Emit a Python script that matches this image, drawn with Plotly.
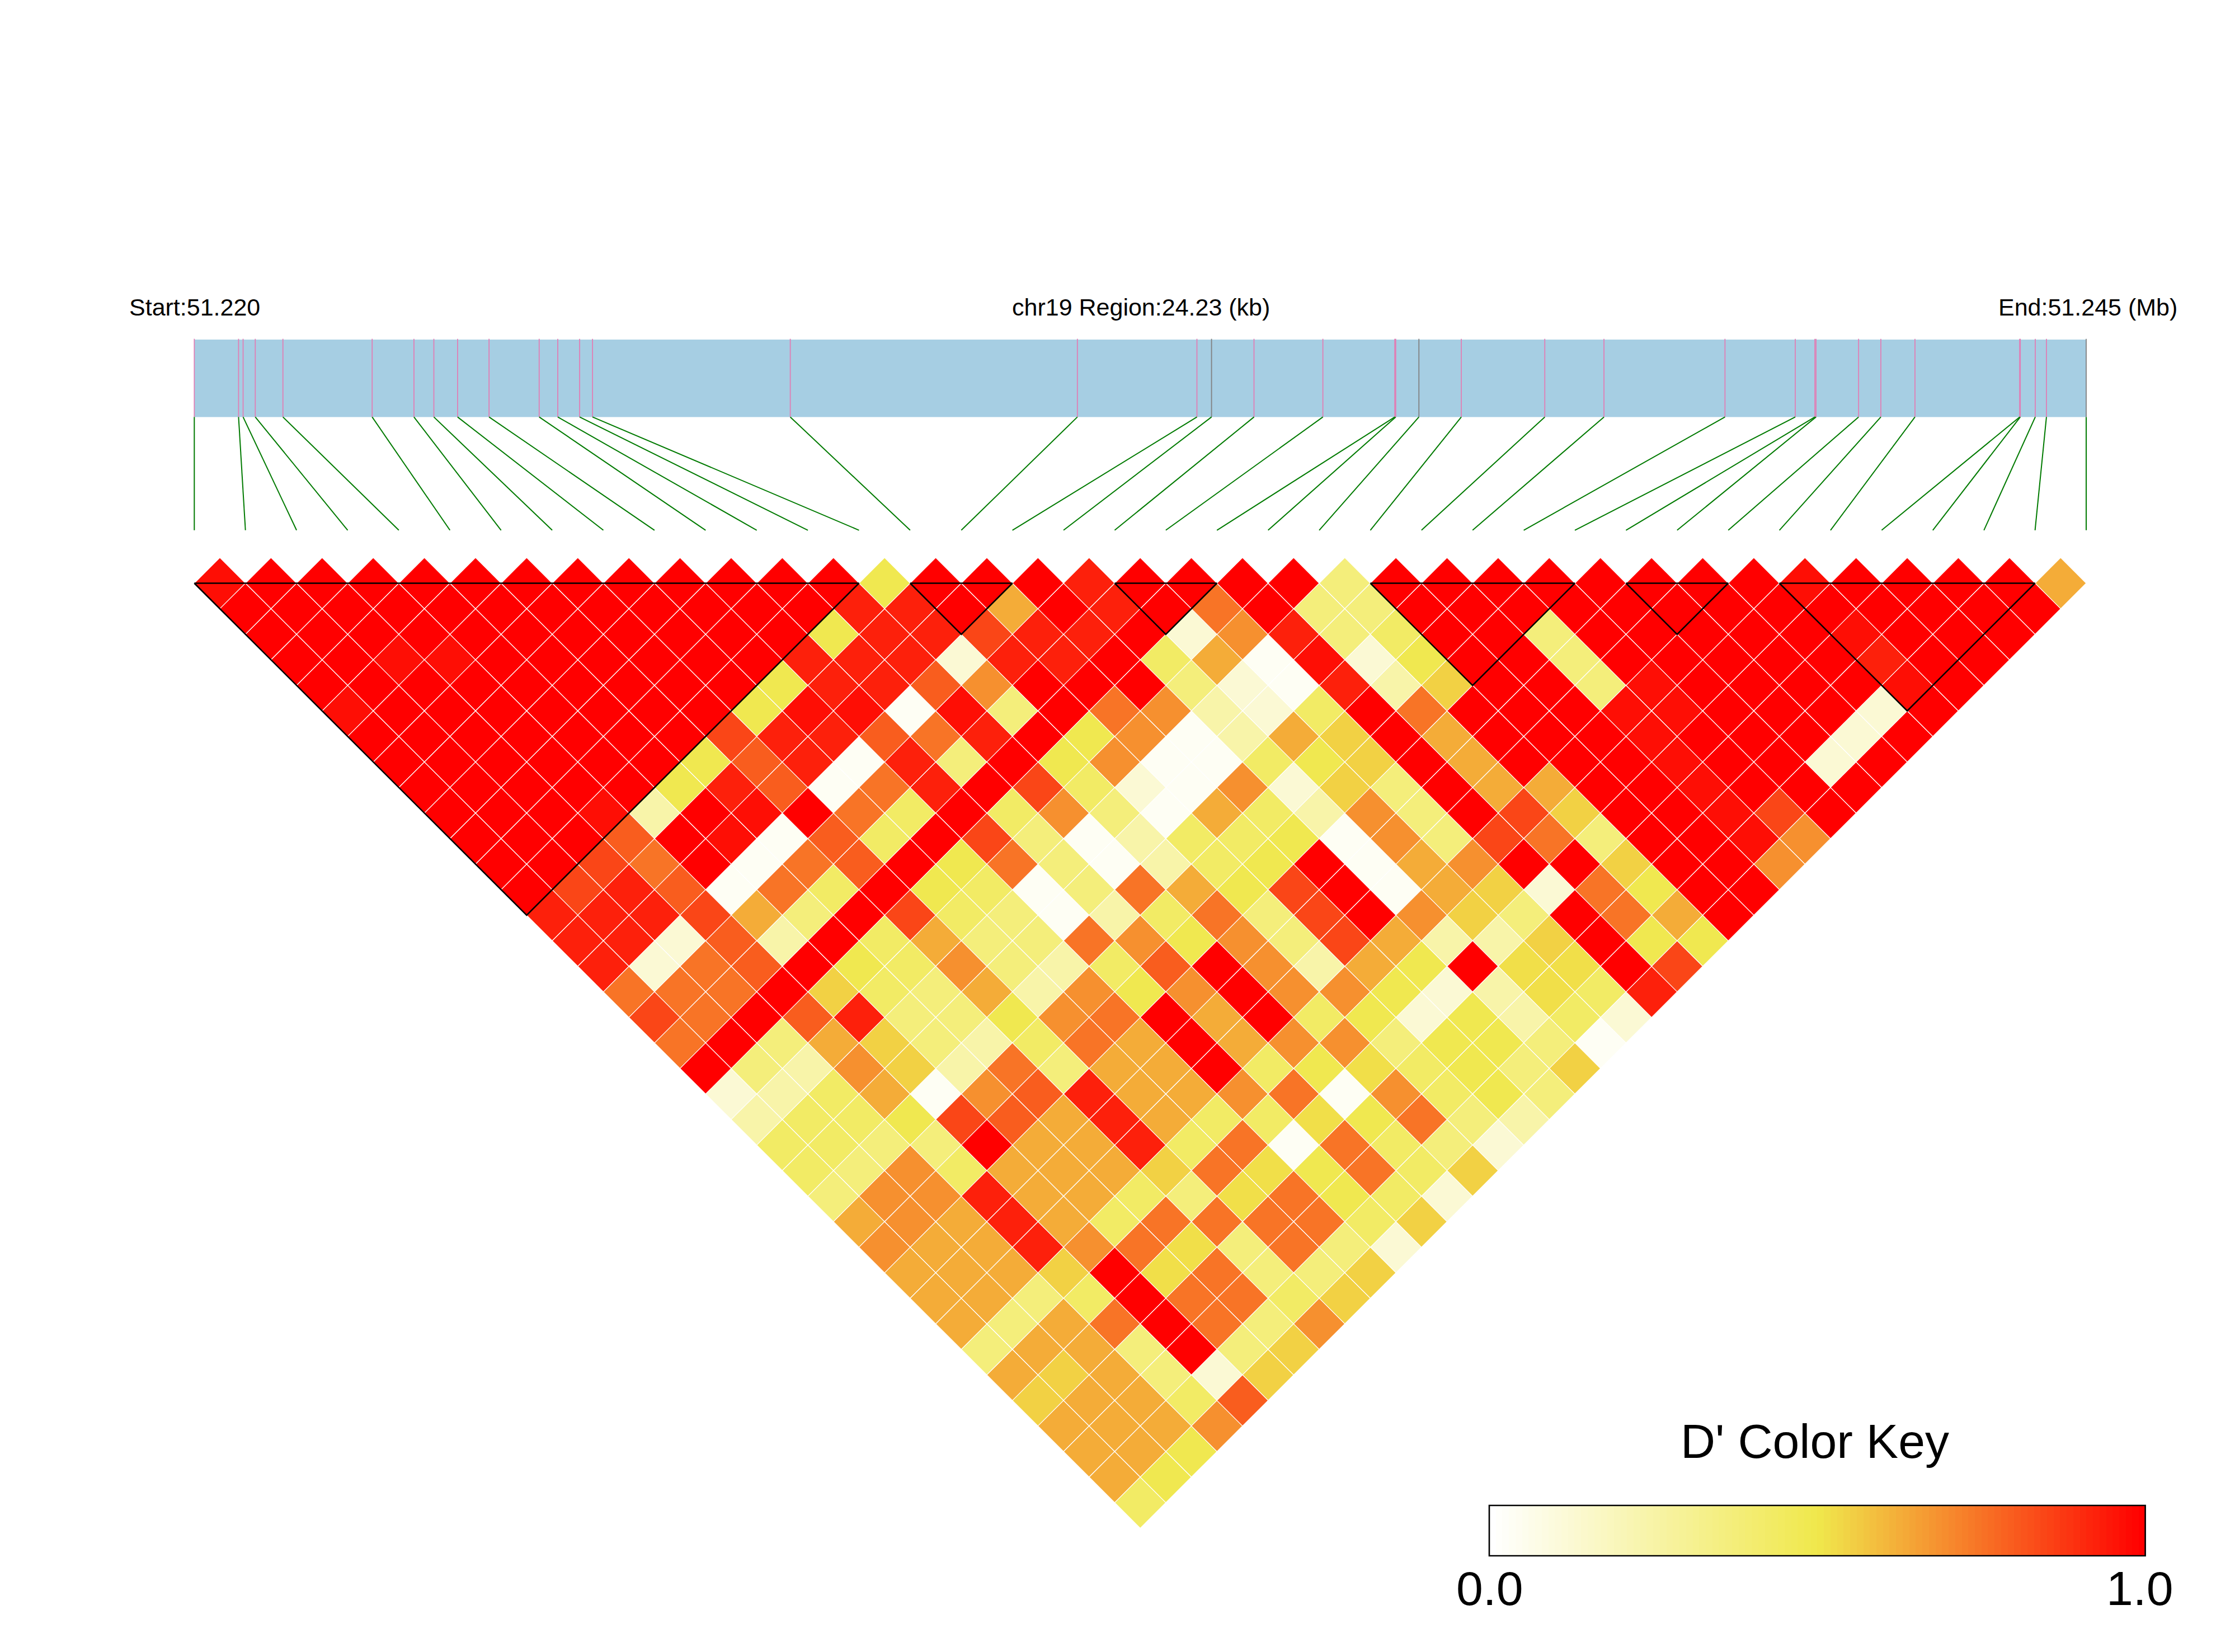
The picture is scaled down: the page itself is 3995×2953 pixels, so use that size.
import numpy as np
import plotly.graph_objects as go

W, H = 3995, 2953

# D' level codes
LEVELS = {"W": .03, "P": .12, "Q": .24, "L": .37, "M": .43, "Y": .49, "I": .52, "G": .55, "A": .63,
          "O": .69, "N": .75, "H": .80, "D": .85, "E": .93, "F": .97, "R": 1.0}

# one string per SNP distance (row 1 = adjacent SNPs), left to right
dprime_rows = [
    "FRRRR RRRRR RRRYR RRERR RRLRR RRRRR RFRRR RA",
    "RRRRR RRRRR RREER ARERN RLLRR RRRRR RRRRR R",
    "RRRRR RRRRR RYEED EERPO ELMRR LRRRR RFRRR",
    "RRFFR RRRRR EEEPE ERMAW FPYRR LRRRR RERR",
    "RRRRR RRRRY EEHOR RRLPW EQGRR LFRRR RFR",
    "FRRRR RRRYF FWFLR NOQPM RNRRR FFRRR PR",
    "RRRRR RRDEE HNERY OWQAG RARRR FRRRP R",
    "RRRRR RYHEW ELRYO WWMYG RARRR FRRPR",
    "RRRRR YEHWN ERDMP WOPGL RAARR FRRR",
    "RRRFQ RFRNM RMOLW AMQOL RDGRR FDR",
    "RRRHR FWHMR DLWQM MYWOL DNLRR FO",
    "RRDNR WNHRY NLWQM YRWAO RRGRR O",
    "RDEHW NMRYM WLNAY DRWAG PNYRR",
    "EEEDA LRDML WQMNL DROGL RNAR",
    "EEPHQ RMALL NOYOL DAQQG RYY",
    "EPNHR YMOLQ MHROQ AYRII RD",
    "NNNRG MLAQO YOROO YPQIM E",
    "DNRHE LLYON RARMY PYQMP",
    "NRLAG LQMNA RAOOL YYLW",
    "RLQOG QNLAA RMYIM YLG",
    "PQMAW OHEAA ONWOM YL",
    "QMMYD HAEAM MIYNL Q",
    "MMLLR AAEMN WNMLP",
    "MLOMA AAGNI YNMG",
    "LOOEA AMLIN YMP",
    "AOAEA MNNNN MG",
    "OAAEO NILNL P",
    "AAAGR INLLG",
    "AALMR NNMG",
    "ALANR NLO",
    "LAALR LG",
    "AGALP G",
    "GAAMH",
    "AAAO",
    "AAY",
    "AY",
    "M",
]

# SNP positions along the region, kb from start
snp_pos_kb = [0.000, 0.567, 0.625, 0.781, 1.135, 2.278, 2.813, 3.068, 3.372, 3.775, 4.417, 4.655,
              4.935, 5.100, 7.633, 11.310, 12.841, 13.028, 13.572, 14.454, 15.375, 15.387, 15.684,
              16.227, 17.296, 18.054, 19.604, 20.504, 20.755, 20.770, 21.315, 21.600, 22.037,
              23.378, 23.386, 23.578, 23.721, 24.230]
grey_snps = [17, 22, 37]
region_kb = 24.23

# LD blocks as (first SNP, last SNP)
ld_blocks = [(0, 13), (14, 16), (18, 20), (23, 27), (28, 30), (31, 36)]

PINK, GREY, GREEN, BLUE = "#E07FB5", "#808080", "#007A00", "#A6CEE3"
YELLOW = (240, 232, 76)
FONT = "Liberation Sans"


def colour(v):
    if v <= .5:
        t = v / .5
        c = [255 + (y - 255) * t for y in YELLOW]
    else:
        t = (v - .5) / .5
        c = [a + (b - a) * t for a, b in zip(YELLOW, (255, 0, 0))]
    return "rgb(%d,%d,%d)" % tuple(round(x) for x in c)


n_snp = len(snp_pos_kb)
rows = [r.replace(" ", "") for r in dprime_rows]
for i, r in enumerate(rows):
    assert len(r) == n_snp - 1 - i, (i, len(r))

x_unit = (3729 - 347.3) / (n_snp - 1)
y_unit = 45.65
y_origin = 1042.5

fig = go.Figure()

# LD cells, one trace per level
for code, val in LEVELS.items():
    xs, ys = [], []
    for ri, row in enumerate(rows):
        for k, c in enumerate(row):
            if c != code:
                continue
            cx, cy = k + (ri + 1) / 2, ri
            xs += [cx - .5, cx, cx + .5, cx, cx - .5, None]
            ys += [cy, cy - 1, cy, cy + 1, cy, None]
    fig.add_trace(go.Scatter(x=xs, y=ys, mode="lines", fill="toself", fillcolor=colour(val),
                             line=dict(color="white", width=1.1), hoverinfo="skip", showlegend=False))

# block outlines
bx, by = [], []
for a, b in ld_blocks:
    bx += [a, b, (a + b) / 2, a, None]
    by += [0, 0, b - a, 0, None]
fig.add_trace(go.Scatter(x=bx, y=by, mode="lines", line=dict(color="black", width=2.6),
                         hoverinfo="skip", showlegend=False))

# gene track
track_top, track_bottom, link_bottom = (607 - y_origin) / y_unit, (745.4 - y_origin) / y_unit, (947.8 - y_origin) / y_unit
track_x = [p / region_kb * (n_snp - 1) for p in snp_pos_kb]
fig.add_shape(type="rect", x0=0, x1=n_snp - 1, y0=track_top, y1=track_bottom,
              fillcolor=BLUE, line_width=0, layer="below")
for i, tx in enumerate(track_x):
    col = GREY if i in grey_snps else PINK
    fig.add_trace(go.Scatter(x=[tx, tx], y=[track_top - .03, track_bottom], mode="lines",
                             line=dict(color=col, width=1.8), hoverinfo="skip", showlegend=False))
    fig.add_trace(go.Scatter(x=[tx, i], y=[track_bottom, link_bottom], mode="lines",
                             line=dict(color=GREEN, width=2), hoverinfo="skip", showlegend=False))

# colour key
kx0, kx1, ky0, ky1 = 2662, 3834.6, 2691, 2781
key_steps = np.linspace(0, 1, 100)
fig.add_trace(go.Heatmap(x=key_steps, y=[0], z=[key_steps], xaxis="x2", yaxis="y2", zmin=0, zmax=1,
                         colorscale=[[0, "rgb(255,255,255)"], [.5, "rgb(%d,%d,%d)" % YELLOW], [1, "rgb(255,0,0)"]],
                         showscale=False, hoverinfo="skip"))
fig.add_shape(type="rect", xref="paper", yref="paper", x0=kx0 / W, x1=kx1 / W,
              y0=1 - ky1 / H, y1=1 - ky0 / H, line=dict(color="black", width=2.6), layer="above")


def label(text, px, py, size, anchor="center"):
    fig.add_annotation(text=text, x=px / W, y=1 - py / H, xref="paper", yref="paper", showarrow=False,
                       xanchor=anchor, yanchor="middle", font=dict(family=FONT, size=size, color="black"))


label("Start:51.220", 229, 549, 43, "left")
label("chr19 Region:24.23 (kb)", 2039, 549, 43)
label("End:51.245 (Mb)", 3570, 549, 43, "left")
label("D' Color Key", 3244, 2576, 86)
label("0.0", 2663, 2839, 86)
label("1.0", 3825, 2839, 86)

hidden = dict(visible=False, showgrid=False, zeroline=False)
fig.update_layout(
    width=W, height=H, margin=dict(l=0, r=0, t=0, b=0), autosize=False,
    paper_bgcolor="white", plot_bgcolor="white", showlegend=False,
    xaxis=dict(range=[-347.3 / x_unit, (W - 347.3) / x_unit], domain=[0, 1], **hidden),
    yaxis=dict(range=[(H - y_origin) / y_unit, -y_origin / y_unit], domain=[0, 1], **hidden),
    xaxis2=dict(range=[-.005, 1.005], domain=[kx0 / W, kx1 / W], anchor="y2", **hidden),
    yaxis2=dict(range=[-.5, .5], domain=[1 - ky1 / H, 1 - ky0 / H], anchor="x2", **hidden),
)
fig.write_html("out.html", config={"displayModeBar": False},
               post_script="document.body.style.margin='0';")
